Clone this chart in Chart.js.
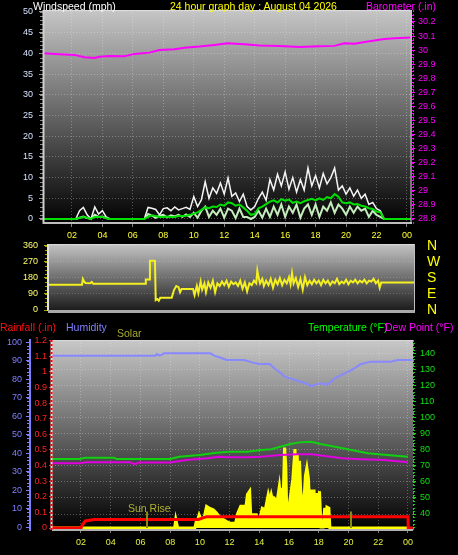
<!DOCTYPE html>
<html><head><meta charset="utf-8">
<script src="https://cdn.jsdelivr.net/npm/chart.js@4.4.1/dist/chart.umd.min.js"></script>
<style>
html,body{margin:0;padding:0;background:#000;}
#wrap{position:relative;width:458px;height:555px;background:#000;overflow:hidden;font-family:"Liberation Sans",Arial,sans-serif;}
canvas{position:absolute;left:0;}
.t{position:absolute;white-space:nowrap;font-size:10.5px;line-height:12px;}
</style></head><body>
<div id="wrap">
<canvas id="c1" width="458" height="244" style="top:0px"></canvas>
<canvas id="c2" width="458" height="82" style="top:238px"></canvas>
<canvas id="c3" width="458" height="220" style="top:335px"></canvas>
<div class="t" style="left:33px;top:0px;color:#ffffff">Windspeed (mph)</div>
<div class="t" style="left:170px;top:0px;color:#ffff00">24 hour graph day : August 04 2026</div>
<div class="t" style="left:366px;top:0px;color:#ff00ff">Barometer (.in)</div>
<div class="t" style="left:0px;top:321px;color:#ff1010">Rainfall (.in)</div>
<div class="t" style="left:66px;top:321px;color:#8080ff">Humidity</div>
<div class="t" style="left:117px;top:327px;color:#a8a830">Solar</div>
<div class="t" style="left:308px;top:321px;color:#00ff00">Temperature (°F)</div>
<div class="t" style="left:385px;top:321px;color:#ff00ff">Dew Point (°F)</div>
<div class="t" style="left:128px;top:502px;color:#b0b030">Sun Rise</div>
</div>
<script>
// ---------- tick labels / categories ----------
const hourTicks = [2,4,6,8,10,12,14,16,18,20,22,24];
const hourLabels = ['02','04','06','08','10','12','14','16','18','20','22','00'];
const windTicks = [0,5,10,15,20,25,30,35,40,45,50];
const baroTicks = [28.8,28.9,29.0,29.1,29.2,29.3,29.4,29.5,29.6,29.7,29.8,29.9,30.0,30.1,30.2];
const dirTicks = [0,90,180,270,360];
const compassLabels = ['N','E','S','W','N'];
const humTicks = [0,10,20,30,40,50,60,70,80,90,100];
const rainTicks = [0,0.1,0.2,0.3,0.4,0.5,0.6,0.7,0.8,0.9,1.0,1.1,1.2];
const tempTicks = [40,50,60,70,80,90,100,110,120,130,140];

// ---------- wind (mph), one sample every 15 minutes from 00:00 ----------
const windStepHours = 0.25;
const windGust = [0,0,0,0,0,0,0,0,0,0,
  2.0,2.8,1.0,0,2.9,1.2,2.0,0.5,
  0,0,0,0,0,0,0,0,0,0,
  2.8,2.6,2.3,1.0,2.5,2.7,2.0,2.9,2.2,2.5,2.8,2.3,
  5.4,3.0,4.6,9.0,5.0,7.5,6.2,8.7,6.0,9.9,5.5,6.3,4.2,6.0,3.0,2.2,3.0,5.0,6.5,4.5,
  9.5,7.0,10.8,8.0,11.4,7.2,10.0,6.5,9.5,7.0,12.3,8.0,10.5,7.5,11.0,8.5,10.0,12.3,7.0,8.0,
  6.0,7.5,5.5,7.0,5.0,6.0,3.5,4.0,2.5,2.0,
  0,0,0,0,0,0,0,0];
const windSpeed = [0,0,0,0,0,0,0,0,0,0,
  0.3,0.6,0.2,0,1.0,0.5,0.6,0.2,
  0,0,0,0,0,0,0,0,0,0,
  1.2,0.8,0.3,0.8,1.0,0.4,0.9,0.6,1.0,0.5,1.1,0.5,
  1.5,0.3,2.0,3.0,0.5,2.0,1.0,2.5,0.3,2.5,2.0,0.2,2.5,0.5,0.5,0,0.5,2.0,0.3,2.5,
  0.5,3.0,1.0,3.5,0.5,3.0,1.5,3.5,0.3,2.5,3.5,1.0,3.5,0.5,3.0,2.0,4.0,1.5,3.5,2.5,
  1.0,3.0,1.5,3.0,2.0,2.5,0.5,2.0,1.0,0.5,
  0,0,0,0,0,0,0,0];
const windAvg = [0,0,0,0,0,0,0,0,0,0,
  0.3,0.5,0.3,0,0.5,0.5,0.5,0.2,
  0,0,0,0,0,0,0,0,0,0,
  0.5,0.9,0.7,0.5,0.5,0.6,0.5,0.5,0.7,0.7,0.8,1.0,
  1.3,1.6,2.2,2.8,2.6,3.0,2.9,3.5,3.2,4.0,3.8,3.2,3.5,2.8,2.0,1.0,1.2,2.6,3.0,3.6,
  4.2,4.5,4.0,4.8,4.4,4.7,3.9,4.2,3.8,4.3,4.6,4.9,4.5,5.0,4.6,5.3,5.0,6.0,5.4,4.0,
  3.8,4.0,3.5,3.6,3.2,3.0,2.6,2.4,1.8,1.6,
  0,0,0,0,0,0,0,0];
const windHours = windGust.map((_, i) => i * windStepHours);

// ---------- barometer (in) ----------
const baroHours = [0.07,1.18,2.17,2.82,3.48,3.81,4.46,5.45,6.11,7.09,7.75,8.73,9.39,10.37,11.36,12.21,13.33,14.31,15.63,16.94,18.25,19.24,19.89,20.55,21.54,22.52,23.18,24.29];
const baroValues = [29.978,29.971,29.966,29.949,29.944,29.953,29.958,29.956,29.973,29.982,30.001,30.006,30.017,30.025,30.037,30.049,30.042,30.032,30.030,30.022,30.027,30.030,30.049,30.046,30.063,30.079,30.084,30.089];

// ---------- wind direction (deg) ----------
const dirHours = [0.43,2.66,2.72,2.8,2.9,3.2,3.3,3.4,6.8,6.85,7.08,7.12,7.45,7.5,7.6,7.7,7.8,8.55,8.7,8.85,9.0,9.1,9.2,9.95,10.05,10.2,10.3,10.45,10.55,10.7,10.8,10.95,11.1,11.25,11.4,11.55,11.7,11.85,12.0,12.15,12.3,12.45,12.6,12.75,12.9,13.05,13.2,13.35,13.5,13.65,13.8,13.95,14.1,14.17,14.25,14.35,14.5,14.6,14.75,14.9,15.05,15.2,15.35,15.5,15.65,15.8,15.95,16.1,16.25,16.35,16.45,16.55,16.7,16.85,17.0,17.15,17.3,17.45,17.6,17.75,17.9,18.05,18.2,18.35,18.5,18.65,18.8,18.95,19.1,19.25,19.4,19.55,19.7,19.85,20.0,20.15,20.3,20.45,20.6,20.75,20.9,21.05,21.2,21.35,21.5,21.65,21.8,21.95,22.1,22.2,22.3,24.52];
const dirValues = [142,142,174,160,152,150,158,148,148,172,172,277,277,56,62,52,69,69,112,135,128,100,118,118,84,135,95,160,115,150,100,155,125,165,100,150,135,160,140,165,130,160,145,155,135,165,120,155,105,150,140,165,150,221,185,150,175,135,165,140,175,125,170,145,180,140,170,150,185,145,208,150,180,130,175,115,185,140,165,145,170,150,165,140,170,150,165,140,160,150,175,145,160,150,170,145,165,155,170,150,165,155,170,150,165,160,175,150,165,125,154,154];

// ---------- humidity (%) ----------
const humHours = [0,7.0,7.1,7.3,7.6,10.7,11.0,11.4,11.8,13.0,13.5,14.0,14.7,15.0,15.4,15.7,16.4,17.1,17.5,17.8,18.1,18.6,19.1,19.75,20.4,20.8,21.5,22.85,23.3,24.3];
const humValues = [92.6,92.6,93.5,92.6,93.9,93.9,92.5,91.5,90.3,90.3,89,88.1,88.1,85.8,83.5,81.3,79.5,77.7,76.2,77,77.7,77,80.5,83.1,85.8,88,89.4,89.4,90.3,90.3];

// ---------- rainfall (in) ----------
const rainHours = [0,2.0,2.1,2.3,2.9,9.9,10.3,10.45,24.0,24.02,24.33];
const rainValues = [0,0,0.02,0.045,0.055,0.055,0.068,0.072,0.072,0,0];

// ---------- temperature / dew point (F) ----------
const tempHours = [0.05,1.9,2.3,4.2,4.4,8.0,8.6,10.0,11.1,12.0,13.2,14.1,14.8,15.4,16.1,16.7,17.5,18.1,19.1,20.2,21.3,22.6,24.0];
const tempValues = [74.2,74.2,75.0,75.0,74.2,74.2,75.6,76.6,78.1,78.7,78.7,79.8,80.2,81.8,83.5,84.5,84.9,83.5,81.8,79.8,77.7,76.6,75.6];
const dewHours = [0.05,2.0,2.3,5.3,5.6,5.9,8.0,9.1,10.5,11.3,11.9,13.2,14.1,15.4,16.6,17.5,18.4,19.6,20.8,22.4,24.0];
const dewValues = [71.5,71.5,72.1,72.1,70.9,72.0,72.0,73.5,74.6,75.6,75.2,75.2,75.6,76.6,77.1,77.1,76.0,74.6,74.0,73.5,72.1];

// ---------- solar (W/m2) ----------
const solarHours = [0,8.3,8.38,8.45,8.5,9.66,9.75,9.85,9.95,10.1,10.3,10.45,10.6,10.75,10.9,11.1,11.3,11.5,11.8,12.0,12.4,12.55,12.75,13.1,13.2,13.35,13.42,13.8,13.9,14.0,14.2,14.4,14.6,14.7,14.8,14.9,15.0,15.1,15.2,15.35,15.45,15.52,15.6,15.7,15.78,15.85,16.0,16.25,16.4,16.47,16.55,16.62,16.7,16.78,16.88,17.0,17.1,17.2,17.3,17.4,17.5,17.6,17.68,17.75,17.85,17.95,18.05,18.15,18.3,18.4,18.47,18.55,18.68,18.75,24.0];
const solarValues = [0,0,43,20,0,0,30,40,65,40,55,107,100,95,90,75,57,45,32,25,23,73,107,107,165,182,65,65,23,35,98,90,165,132,165,132,148,140,132,207,132,198,140,398,307,65,107,240,390,123,365,115,332,190,115,130,257,298,248,100,190,57,190,7,173,20,182,5,5,100,5,103,98,0,0];

// ---------- sun events (hours) ----------
const sunEventHours = [6.47, 20.2];

// ================== drawing ==================
Chart.defaults.font.family = '"Liberation Sans", Arial, sans-serif';
Chart.defaults.font.size = 9;
Chart.defaults.animation = false;
Chart.defaults.responsive = false;
Chart.defaults.plugins.legend.display = false;
Chart.defaults.plugins.tooltip.enabled = false;
Chart.defaults.elements.point.radius = 0;
Chart.defaults.elements.line.tension = 0;

function pts(xs, ys) { return xs.map((x, i) => ({x: x, y: ys[i]})); }
function fixTicks(list) { return s => { s.ticks = list.map(v => ({value: v})); }; }
function fitW(w) { return s => { s.width = w; s.paddingTop = 0; s.paddingBottom = 0; }; }
function fitH(h) { return s => { s.height = h; s.paddingLeft = 0; s.paddingRight = 0; }; }
const fmt1 = v => String(+(+v).toFixed(1));

const panelPlugin = {
  id: 'panel',
  beforeDraw(chart, args, o) {
    const {ctx, chartArea: a} = chart;
    const g = ctx.createLinearGradient(0, a.top, 0, a.bottom);
    g.addColorStop(0, o.top); g.addColorStop(1, o.bottom);
    ctx.save(); ctx.fillStyle = g;
    ctx.fillRect(a.left, a.top, a.right - a.left, a.bottom - a.top);
    ctx.restore();
  },
  afterDatasetsDraw(chart, args, o) {
    const {ctx, chartArea: a} = chart;
    ctx.save();
    (o.minor || []).forEach(m => {
      const s = chart.scales[m.axis];
      ctx.strokeStyle = m.color; ctx.lineWidth = 1; ctx.setLineDash([]);
      for (let v = m.from; v <= m.to + 1e-9; v += m.step) {
        const y = Math.round(s.getPixelForValue(v)) + 0.5;
        ctx.beginPath();
        if (s.position === 'left') { ctx.moveTo(s.right - m.len, y); ctx.lineTo(s.right, y); }
        else { ctx.moveTo(s.left, y); ctx.lineTo(s.left + m.len, y); }
        ctx.stroke();
      }
    });
    (o.edges || []).forEach(e => {
      ctx.beginPath(); ctx.strokeStyle = e.color; ctx.lineWidth = e.w || 1; ctx.setLineDash(e.dash || []);
      const off = e.off || 0;
      if (e.side === 'left') { ctx.moveTo(a.left + off, a.top); ctx.lineTo(a.left + off, a.bottom); }
      if (e.side === 'right') { ctx.moveTo(a.right + off, a.top); ctx.lineTo(a.right + off, a.bottom); }
      if (e.side === 'top') { ctx.moveTo(a.left, a.top + off); ctx.lineTo(a.right, a.top + off); }
      if (e.side === 'bottom') { ctx.moveTo(a.left, a.bottom + off); ctx.lineTo(a.right, a.bottom + off); }
      ctx.stroke();
    });
    if (o.sun) {
      const sx = chart.scales.x, sy = chart.scales.yR;
      ctx.setLineDash([]); ctx.strokeStyle = '#8a8a10'; ctx.lineWidth = 2;
      sunEventHours.forEach(h => {
        const x = Math.round(sx.getPixelForValue(h));
        ctx.beginPath(); ctx.moveTo(x, sy.getPixelForValue(0.105)); ctx.lineTo(x, sy.getPixelForValue(0)); ctx.stroke();
      });
    }
    ctx.restore();
  }
};

const gridCol = 'rgba(235,235,235,0.32)';

// ---- top: wind + barometer ----
new Chart(document.getElementById('c1'), {
  type: 'line',
  data: { datasets: [
    {data: pts(baroHours, baroValues), yAxisID: 'yB', borderColor: '#ff00ff', borderWidth: 2, order: 0},
    {data: pts(windHours, windAvg), yAxisID: 'yW', borderColor: '#00e000', borderWidth: 2, order: 1},
    {data: pts(windHours, windSpeed), yAxisID: 'yW', borderColor: '#c4ecbc', borderWidth: 2, order: 2},
    {data: pts(windHours, windGust), yAxisID: 'yW', borderColor: '#f4f4f4', borderWidth: 1.5, order: 3}
  ]},
  options: {
    layout: {padding: {top: 10, left: 0, right: 0, bottom: 0}},
    scales: {
      x: {type: 'linear', min: 0.1, max: 24.33, afterFit: fitH(20), afterBuildTicks: fixTicks(hourTicks),
          ticks: {color: '#ffff30', padding: 3, maxRotation: 0, autoSkip: false, callback: (v, i) => hourLabels[i]},
          grid: {color: gridCol, drawTicks: true, tickLength: 3, tickColor: '#808080'}, border: {display: false, dash: [1, 2]}},
      yW: {position: 'left', min: -1.21, max: 50.48, afterFit: fitW(43), afterBuildTicks: fixTicks(windTicks),
          ticks: {color: '#d4e2ff', padding: 6, autoSkip: false, callback: v => String(v)},
          grid: {color: gridCol, tickLength: 4, tickColor: '#a0a0a0'}, border: {display: false, dash: [1, 2]}},
      yB: {position: 'right', min: 28.764, max: 30.285, afterFit: fitW(46), afterBuildTicks: fixTicks(baroTicks),
          ticks: {color: '#ff00ff', padding: 3, autoSkip: false, callback: fmt1},
          grid: {drawOnChartArea: false, tickLength: 3, tickColor: '#ff00ff'}, border: {display: false}}
    },
    plugins: {panel: {top: '#c6c6c6', bottom: '#000000',
      minor: [{axis: 'yW', from: 0, to: 50, step: 1, len: 3, color: '#8a8a8a'}, {axis: 'yB', from: 28.8, to: 30.25, step: 0.025, len: 2, color: '#ff00ff'}],
      edges: [{side: 'left', color: '#d0d0d0', w: 2, off: 0.5}, {side: 'bottom', color: '#bdbdbd', w: 2, off: -1},
              {side: 'top', color: '#dcdcdc', w: 1, off: 0.5}, {side: 'right', color: '#c8c8c8', w: 1, off: -1},
              {side: 'right', color: '#ff00ff', w: 1, off: 1.5, dash: [2, 2]}]}}
  },
  plugins: [panelPlugin]
});

// ---- middle: wind direction ----
new Chart(document.getElementById('c2'), {
  type: 'line',
  data: { datasets: [
    {data: pts(dirHours, dirValues), yAxisID: 'yD', borderColor: '#f4f020', borderWidth: 2}
  ]},
  options: {
    layout: {padding: {top: 6, bottom: 9, left: 0, right: 0}},
    scales: {
      x: {type: 'linear', display: false, min: 0.43, max: 24.52},
      yD: {position: 'left', min: -5.6, max: 371, afterFit: fitW(48), afterBuildTicks: fixTicks(dirTicks),
           ticks: {color: '#ffff70', padding: 6, autoSkip: false, callback: v => String(v)},
           grid: {color: 'rgba(235,235,235,0.22)', tickLength: 4, tickColor: '#b0b000'}, border: {display: false, dash: [1, 2]}},
      yC: {position: 'right', min: -5.6, max: 371, afterFit: fitW(43), afterBuildTicks: fixTicks(dirTicks),
           ticks: {color: '#ffff00', padding: 12, autoSkip: false, font: {size: 14}, callback: (v, i) => compassLabels[i]},
           grid: {display: false, drawTicks: false}, border: {display: false}}
    },
    plugins: {panel: {top: '#c4c4c4', bottom: '#1a1a1a',
      minor: [{axis: 'yD', from: 0, to: 360, step: 22.5, len: 3, color: '#a0a000'}],
      edges: [{side: 'left', color: '#e0e0e0', w: 2, off: 0}, {side: 'bottom', color: '#a8a8a8', w: 3, off: 0.5},
              {side: 'top', color: '#d8d8d8', w: 1, off: 0.5}, {side: 'right', color: '#c0c0c0', w: 1, off: -0.5}]}}
  },
  plugins: [panelPlugin]
});

// ---- bottom: rain, humidity, solar, temperature, dew point ----
new Chart(document.getElementById('c3'), {
  type: 'line',
  data: { datasets: [
    {data: pts(humHours, humValues), yAxisID: 'yH', borderColor: '#8888ff', borderWidth: 2, order: 0},
    {data: pts(dewHours, dewValues), yAxisID: 'yT', borderColor: '#e000e0', borderWidth: 2, order: 1},
    {data: pts(tempHours, tempValues), yAxisID: 'yT', borderColor: '#10d010', borderWidth: 2, order: 2},
    {data: pts(rainHours, rainValues), yAxisID: 'yR', borderColor: '#ff0000', borderWidth: 3, order: 3},
    {data: pts(solarHours, solarValues), yAxisID: 'yS', borderColor: '#ffff00', backgroundColor: '#ffff00', borderWidth: 3, fill: {value: 0}, order: 4}
  ]},
  options: {
    layout: {padding: {top: 5, left: 0, right: 0, bottom: 0}},
    scales: {
      x: {type: 'linear', min: 0.05, max: 24.34, afterFit: fitH(25), afterBuildTicks: fixTicks(hourTicks),
          ticks: {color: '#e4f040', padding: 4, maxRotation: 0, autoSkip: false, callback: (v, i) => hourLabels[i]},
          grid: {color: gridCol, drawTicks: true, tickLength: 3, tickColor: '#808080'}, border: {display: false, dash: [1, 2]}},
      yH: {position: 'left', weight: 10, min: -1.6, max: 101.1, afterFit: fitW(30), afterBuildTicks: fixTicks(humTicks),
           ticks: {color: '#8080ff', padding: 4, autoSkip: false, callback: v => String(v)},
           grid: {drawOnChartArea: false, tickLength: 4, tickColor: '#8080ff'}, border: {display: true, color: '#8080ff', width: 2}},
      yR: {position: 'left', weight: 5, min: -0.0128, max: 1.205, afterFit: fitW(22), afterBuildTicks: fixTicks(rainTicks),
           ticks: {color: '#ff2020', padding: 2, autoSkip: false, callback: fmt1},
           grid: {drawOnChartArea: false, tickLength: 3, tickColor: '#ff2020'}, border: {display: false}},
      yT: {position: 'right', min: 30.06, max: 148.1, afterFit: fitW(45), afterBuildTicks: fixTicks(tempTicks),
           ticks: {color: '#10e010', padding: 4, autoSkip: false, callback: v => String(v)},
           grid: {color: gridCol, tickLength: 3, tickColor: '#10e010'}, border: {display: false, dash: [1, 2]}},
      yS: {display: false, min: -10, max: 930}
    },
    plugins: {panel: {top: '#c8c8c8', bottom: '#000000', sun: true,
      minor: [{axis: 'yH', from: 0, to: 100, step: 2, len: 3, color: '#8080ff'}, {axis: 'yT', from: 32, to: 146, step: 2, len: 2, color: '#10e010'}],
      edges: [{side: 'top', color: '#d8d8d8', w: 1, off: 0.5}, {side: 'bottom', color: '#b0b0b0', w: 2, off: 0},
              {side: 'left', color: '#ffd0d0', w: 2, off: -0.5}, {side: 'left', color: '#ff0000', w: 2, off: -0.5, dash: [2, 2]},
              {side: 'right', color: '#00e000', w: 1, off: 0.5, dash: [2, 2]}]}}
  },
  plugins: [panelPlugin]
});
</script>
</body></html>
